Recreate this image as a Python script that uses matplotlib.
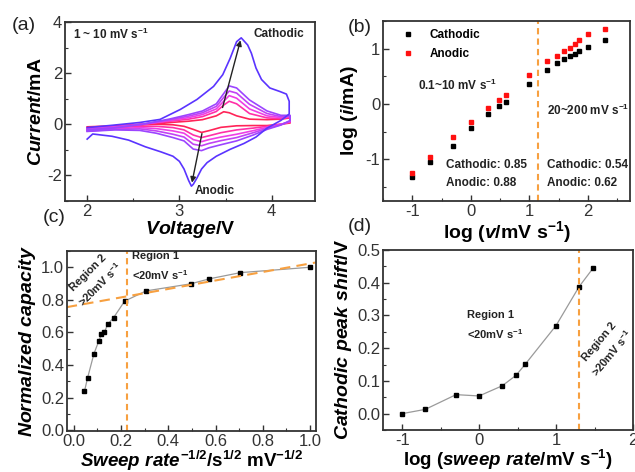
import numpy as np
import matplotlib
matplotlib.use("Agg")
from matplotlib import pyplot as plt
from matplotlib.ticker import MultipleLocator, FormatStrFormatter

plt.rcParams['font.family'] = ['Liberation Sans', 'DejaVu Sans']
plt.rcParams['mathtext.fontset'] = 'custom'
plt.rcParams['mathtext.rm'] = 'Liberation Sans:bold'
plt.rcParams['mathtext.it'] = 'Liberation Sans:italic:bold'
plt.rcParams['mathtext.bf'] = 'Liberation Sans:bold'
plt.rcParams['axes.unicode_minus'] = False

# ---------------- (a) CV curves, 1 ~ 10 mV/s ----------------
# five small scans share these potential grids
up_v = [2.0, 2.3, 2.6, 2.9, 3.1, 3.25, 3.4, 3.48, 3.54, 3.62, 3.76, 3.95, 4.1, 4.2]
low_v = [4.2, 4.1, 3.95, 3.8, 3.62, 3.45, 3.32, 3.24, 3.15, 3.05, 2.93, 2.75, 2.57, 2.3, 2.0]
up_i = [
    [-0.10, -0.06, 0.00, 0.07, 0.12, 0.18, 0.33, 0.49, 0.45, 0.33, 0.20, 0.18, 0.20, 0.25],
    [-0.14, -0.08, 0.00, 0.12, 0.20, 0.30, 0.50, 0.75, 0.90, 0.80, 0.42, 0.25, 0.22, 0.27],
    [-0.17, -0.10, 0.00, 0.15, 0.26, 0.38, 0.60, 0.90, 1.12, 1.02, 0.60, 0.33, 0.26, 0.30],
    [-0.20, -0.12, 0.00, 0.18, 0.32, 0.45, 0.70, 1.05, 1.30, 1.22, 0.78, 0.42, 0.30, 0.32],
    [-0.22, -0.14, 0.00, 0.21, 0.38, 0.52, 0.80, 1.20, 1.50, 1.42, 0.95, 0.52, 0.35, 0.35],
]
low_i = [
    [0.05, 0.00, -0.05, -0.05, -0.06, -0.12, -0.25, -0.32, -0.20, -0.08, -0.02, 0.00, -0.03, -0.10, -0.18],
    [0.08, 0.00, -0.08, -0.15, -0.22, -0.33, -0.45, -0.52, -0.42, -0.22, -0.13, -0.08, -0.08, -0.15, -0.22],
    [0.10, 0.00, -0.12, -0.25, -0.39, -0.50, -0.60, -0.68, -0.60, -0.35, -0.26, -0.17, -0.13, -0.18, -0.25],
    [0.12, -0.02, -0.16, -0.33, -0.52, -0.64, -0.75, -0.84, -0.78, -0.50, -0.39, -0.26, -0.18, -0.20, -0.27],
    [0.15, -0.03, -0.20, -0.42, -0.65, -0.80, -0.92, -1.03, -0.97, -0.65, -0.52, -0.35, -0.24, -0.22, -0.28],
]
# 10 mV/s scan
blue_up_v = [2.0, 2.27, 2.57, 2.79, 3.01, 3.19, 3.37, 3.47, 3.55, 3.62, 3.67, 3.74, 3.78, 3.83,
             3.89, 3.98, 4.09, 4.16, 4.19]
blue_up_i = [-0.13, -0.04, 0.07, 0.19, 0.58, 0.97, 1.48, 1.94, 2.58, 3.23, 3.38, 3.10, 2.78, 2.20,
             1.75, 1.42, 1.28, 1.18, 0.90]
blue_low_v = [4.19, 4.10, 3.95, 3.83, 3.70, 3.55, 3.40, 3.30, 3.24, 3.19, 3.15, 3.13, 3.10, 3.05,
              3.00, 2.93, 2.80, 2.63, 2.45, 2.27, 2.06, 2.0]
blue_low_i = [0.40, 0.15, -0.15, -0.50, -0.75, -0.98, -1.25, -1.50, -1.75, -2.10, -2.35, -2.42,
              -2.20, -1.75, -1.45, -1.25, -1.08, -0.88, -0.62, -0.47, -0.38, -0.58]
cv_colors = ['#ff2458', '#ff30a8', '#ee3ee6', '#c242f4', '#9c44ff']
blue_color = '#5a34ff'

# ---------------- (b) log i vs log v ----------------
log_v = [-1, -0.7, -0.3, 0, 0.3, 0.48, 0.6, 1, 1.3, 1.48, 1.6, 1.7, 1.78, 1.85, 2, 2.3]
log_i_cat = [-1.32, -1.05, -0.75, -0.43, -0.18, -0.04, 0.04, 0.37, 0.61, 0.74, 0.81, 0.87,
             0.91, 0.95, 1.03, 1.16]
log_i_an = [-1.25, -0.96, -0.60, -0.33, -0.07, 0.08, 0.17, 0.53, 0.78, 0.87, 0.96, 1.02,
            1.08, 1.15, 1.26, 1.36]
b_split = 1.15

# ---------------- (c) normalized capacity ----------------
rate_inv_sqrt = [0.045, 0.058, 0.085, 0.105, 0.117, 0.129, 0.143, 0.168, 0.215, 0.306,
                 0.494, 0.574, 0.705, 1.0]
norm_cap = [0.239, 0.32, 0.469, 0.545, 0.59, 0.60, 0.649, 0.69, 0.792, 0.855, 0.898, 0.929,
            0.967, 1.0]
c_split = 0.224
c_fit = (0.763, 0.26)   # intercept, slope

# ---------------- (d) cathodic peak shift ----------------
log_rate = [-1, -0.7, -0.3, 0, 0.3, 0.48, 0.6, 1, 1.3, 1.48]
peak_shift = [0.0, 0.013, 0.058, 0.054, 0.085, 0.117, 0.151, 0.269, 0.388, 0.444]
d_split = 1.3

orange = '#f7a040'
tick_col = '#333333'
lab_fs = 14


def style(ax):
    for s in ax.spines.values():
        s.set_color('#333333')
        s.set_linewidth(1.3)
    ax.tick_params(which='both', direction='in', colors='#333333', labelcolor=tick_col,
                   labelsize=12, top=False, right=False, pad=2)
    ax.tick_params(which='major', length=4, width=1)
    ax.tick_params(which='minor', length=2, width=0.8)


fig = plt.figure(figsize=(6.35, 4.72), dpi=100)
axa = fig.add_axes([0.1024, 0.5742, 0.3937, 0.3792])
axb = fig.add_axes([0.6031, 0.5742, 0.389, 0.3814])
axc = fig.add_axes([0.1055, 0.0869, 0.3921, 0.3814])
axd = fig.add_axes([0.6031, 0.0890, 0.3937, 0.3814])

# (a)
for k in range(5):
    axa.plot(up_v + low_v, up_i[k] + low_i[k], color=cv_colors[k], lw=1.2)
axa.plot(blue_up_v + blue_low_v, blue_up_i + blue_low_i, color=blue_color, lw=1.2)
axa.annotate('', xy=(3.67, 3.39), xytext=(3.46, 0.55),
             arrowprops=dict(arrowstyle='-|>', color='#222222', lw=1, mutation_scale=8))
axa.annotate('', xy=(3.13, -2.39), xytext=(3.25, -0.26),
             arrowprops=dict(arrowstyle='-|>', color='#222222', lw=1, mutation_scale=8))
axa.text(3.8, 3.55, 'Cathodic', fontsize=8.5, fontweight='bold', va='center', color='#222')
axa.text(3.17, -2.62, 'Anodic', fontsize=8.5, fontweight='bold', va='center', color='#222')
axa.text(0.03, 0.93, r'1 ~ 10 mV s$^{-1}$', transform=axa.transAxes, fontsize=8.5,
         fontweight='bold', va='center', color='#222')
axa.set_xlim(1.76, 4.47)
axa.set_ylim(-3, 4)
axa.xaxis.set_major_locator(MultipleLocator(1))
axa.xaxis.set_minor_locator(MultipleLocator(0.5))
axa.yaxis.set_major_locator(MultipleLocator(2))
axa.yaxis.set_minor_locator(MultipleLocator(1))
axa.set_xlabel(r'$\mathit{Voltage}$/V', fontsize=lab_fs, fontweight='bold', labelpad=0)
axa.set_ylabel(r'$\mathit{Current}$/mA', fontsize=lab_fs, fontweight='bold', labelpad=2)
style(axa)

# (b)
axb.plot(log_v, log_i_cat, 's', color='black', ms=3.2, label='Cathodic')
axb.plot(log_v, log_i_an, 's', color='#ff1010', ms=3.2, label='Anodic')
axb.axvline(b_split, color=orange, lw=1.5, ls=(0, (3, 2)))
axb.legend(loc='upper left', frameon=False, prop={'weight': 'bold', 'size': 8.5},
           handletextpad=0.8, borderaxespad=0.3, labelspacing=0.6, bbox_to_anchor=(0.02, 1.0))
axb.text(-0.9, 0.34, r'0.1~10 mV s$^{-1}$', fontsize=8.5, fontweight='bold', va='center', color='#222')
axb.text(1.31, -0.11, r'20~200 mV s$^{-1}$', fontsize=8.5, fontweight='bold', va='center', color='#222')
axb.text(-0.43, -1.1, 'Cathodic: 0.85', fontsize=8.5, fontweight='bold', va='center', color='#222')
axb.text(-0.43, -1.43, 'Anodic: 0.88', fontsize=8.5, fontweight='bold', va='center', color='#222')
axb.text(1.31, -1.1, 'Cathodic: 0.54', fontsize=8.5, fontweight='bold', va='center', color='#222')
axb.text(1.31, -1.43, 'Anodic: 0.62', fontsize=8.5, fontweight='bold', va='center', color='#222')
axb.set_xlim(-1.5, 2.72)
axb.set_ylim(-1.75, 1.5)
axb.xaxis.set_major_locator(MultipleLocator(1))
axb.xaxis.set_minor_locator(MultipleLocator(0.5))
axb.yaxis.set_major_locator(MultipleLocator(1))
axb.yaxis.set_minor_locator(MultipleLocator(0.5))
axb.set_xlabel(r'log ($\mathit{v}$/mV s$^{-1}$)', fontsize=lab_fs, fontweight='bold', labelpad=0)
axb.set_ylabel(r'log ($\mathit{i}$/mA)', fontsize=lab_fs, fontweight='bold', labelpad=4)
style(axb)

# (c)
axc.plot(rate_inv_sqrt, norm_cap, '-', color='#9a9a9a', lw=0.9)
axc.plot(rate_inv_sqrt, norm_cap, 's', color='black', ms=3.2)
fx = np.array([-0.03, 1.03])
axc.plot(fx, c_fit[0] + c_fit[1] * fx, color=orange, lw=1.5, ls=(0, (5, 3)))
axc.axvline(c_split, color=orange, lw=1.5, ls=(0, (3, 2)))
axc.text(0.247, 1.005, 'Region 1\n' + r'<20mV s$^{-1}$', fontsize=8, fontweight='bold',
         va='center', ha='left', linespacing=1.6, color='#222')
axc.text(0.088, 0.925, 'Region 2\n' + r'>20mV s$^{-1}$', fontsize=8, fontweight='bold',
         va='center', ha='center', rotation=45, linespacing=1.4, color='#222')
axc.set_xlim(-0.029, 1.025)
axc.set_ylim(-0.005, 1.1)
axc.xaxis.set_major_locator(MultipleLocator(0.2))
axc.xaxis.set_minor_locator(MultipleLocator(0.1))
axc.yaxis.set_major_locator(MultipleLocator(0.2))
axc.yaxis.set_minor_locator(MultipleLocator(0.1))
axc.xaxis.set_major_formatter(FormatStrFormatter('%.1f'))
axc.yaxis.set_major_formatter(FormatStrFormatter('%.1f'))
axc.set_xlabel(r'$\mathit{Sweep\ rate}^{-1/2}$/s$^{1/2}$ mV$^{-1/2}$', fontsize=13.5,
               fontweight='bold', labelpad=0)
axc.set_ylabel(r'$\mathit{Normalized\ capacity}$', fontsize=lab_fs, fontweight='bold', labelpad=2)
style(axc)

# (d)
axd.plot(log_rate, peak_shift, '-', color='#9a9a9a', lw=0.9)
axd.plot(log_rate, peak_shift, 's', color='black', ms=3.2)
axd.axvline(d_split, color=orange, lw=1.5, ls=(0, (3, 2)))
axd.text(-0.16, 0.268, 'Region 1\n' + r'<20mV s$^{-1}$', fontsize=8, fontweight='bold',
         va='center', ha='left', linespacing=1.6, color='#222')
axd.text(1.65, 0.2, 'Region 2\n' + r'>20mV s$^{-1}$', fontsize=8, fontweight='bold',
         va='center', ha='center', rotation=50, linespacing=1.4, color='#222')
axd.set_xlim(-1.25, 2.0)
axd.set_ylim(-0.05, 0.5)
axd.xaxis.set_major_locator(MultipleLocator(1))
axd.xaxis.set_minor_locator(MultipleLocator(0.5))
axd.yaxis.set_major_locator(MultipleLocator(0.1))
axd.yaxis.set_minor_locator(MultipleLocator(0.05))
axd.yaxis.set_major_formatter(FormatStrFormatter('%.1f'))
axd.set_xlabel(r'log ($\mathit{sweep\ rate}$/mV s$^{-1}$)', fontsize=13.5, fontweight='bold',
               labelpad=0)
axd.set_ylabel(r'$\mathit{Cathodic\ peak\ shift}$/V', fontsize=lab_fs, fontweight='bold', labelpad=2)
style(axd)

# panel letters
fig.text(12 / 635, 1 - 25 / 472, '(a)', fontsize=14, va='center', color='#222')
fig.text(348 / 635, 1 - 27 / 472, '(b)', fontsize=14, va='center', color='#222')
fig.text(43 / 635, 1 - 218 / 472, '(c)', fontsize=14, va='center', color='#222')
fig.text(348 / 635, 1 - 227 / 472, '(d)', fontsize=14, va='center', color='#222')

fig.savefig('out.png', dpi=100)
